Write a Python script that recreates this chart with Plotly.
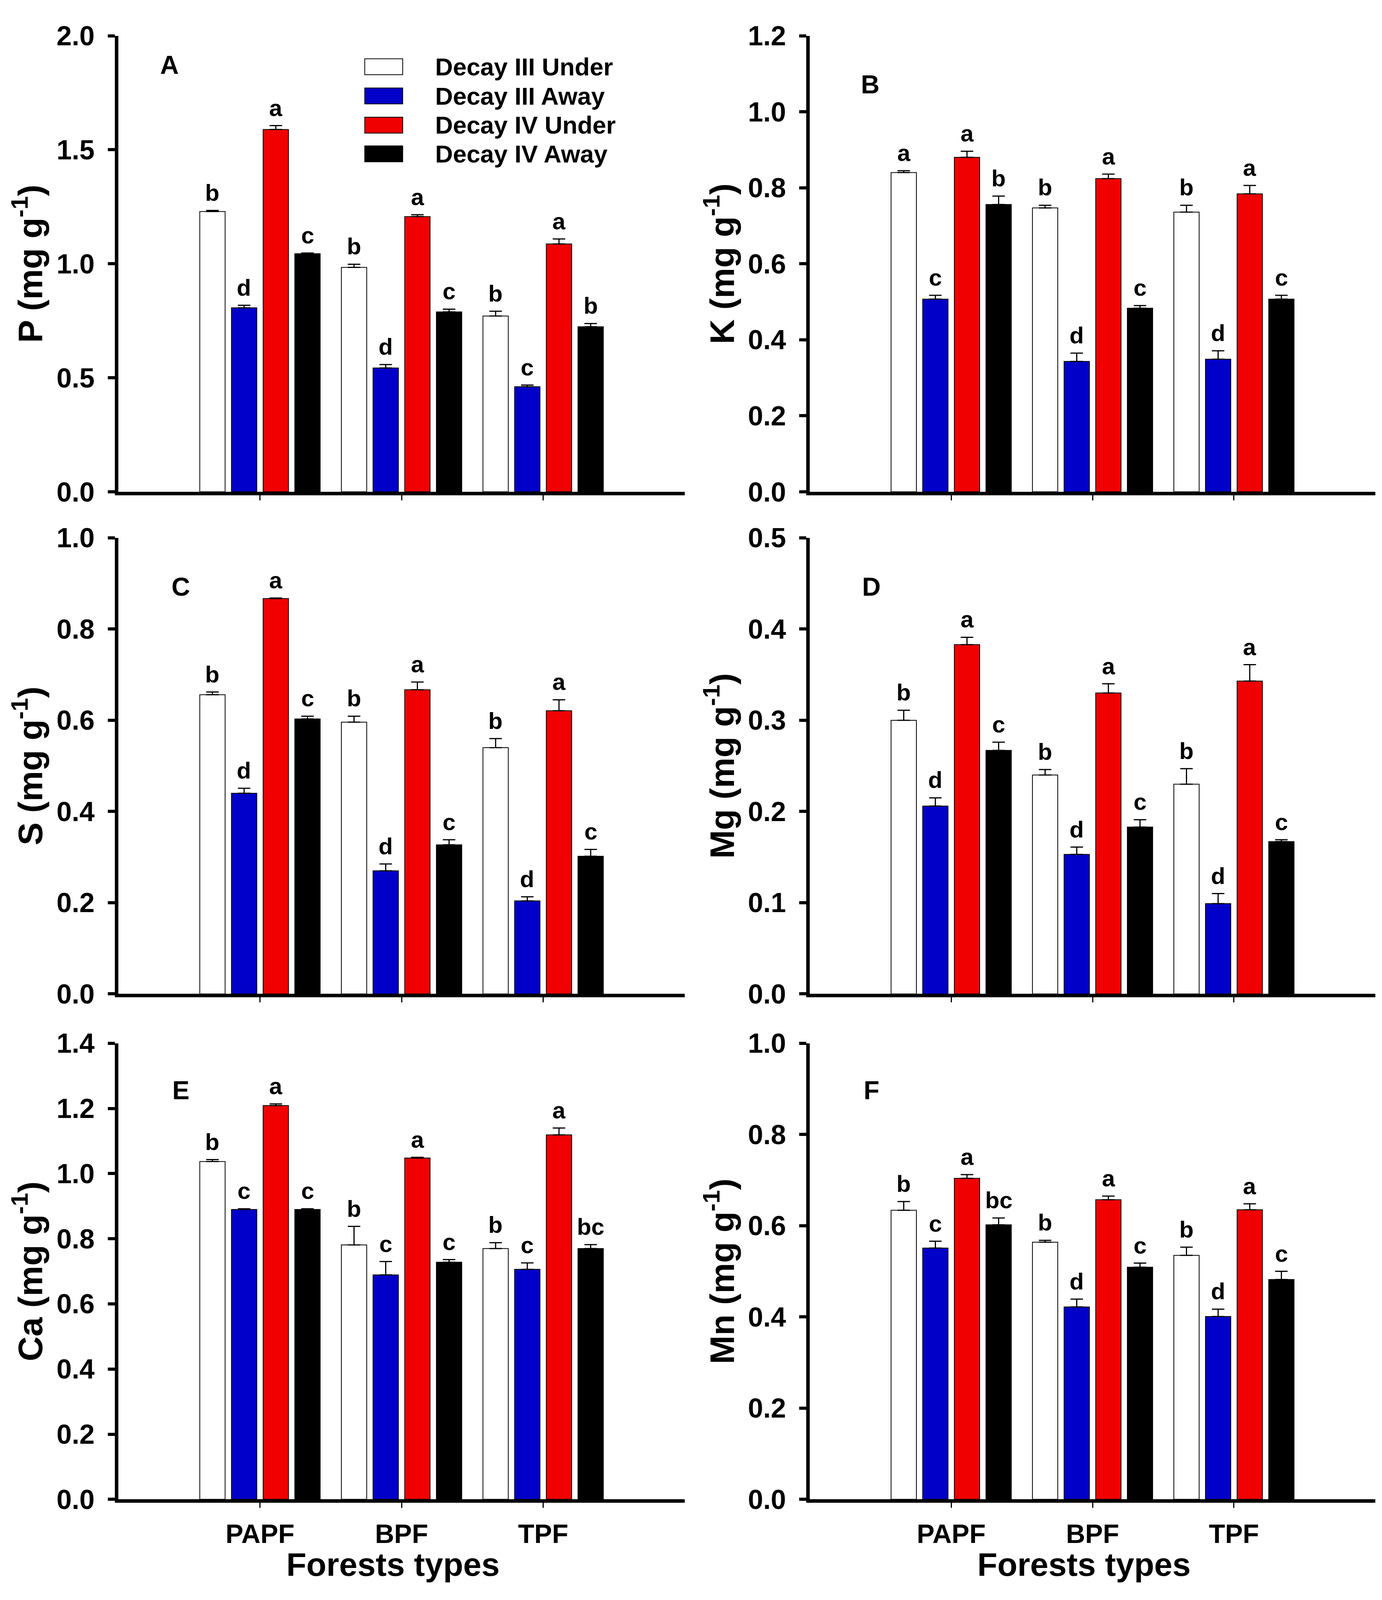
import plotly.graph_objects as go
from plotly.subplots import make_subplots

# Data: rows = series, columns = forest types
forests = ["PAPF", "BPF", "TPF"]
series = ["Decay III Under", "Decay III Away", "Decay IV Under", "Decay IV Away"]
colors = ["#ffffff", "#0000c8", "#f00000", "#000000"]

P_mean = [[1.229, 0.984, 0.771], [0.807, 0.543, 0.461], [1.589, 1.207, 1.087], [1.044, 0.789, 0.724]]
P_err = [[0.005, 0.014, 0.021], [0.011, 0.015, 0.007], [0.017, 0.008, 0.022], [0.003, 0.012, 0.014]]
P_sig = [["b", "b", "b"], ["d", "d", "c"], ["a", "a", "a"], ["c", "c", "b"]]

K_mean = [[0.840, 0.747, 0.736], [0.507, 0.343, 0.349], [0.880, 0.824, 0.784], [0.756, 0.483, 0.507]]
K_err = [[0.005, 0.007, 0.018], [0.010, 0.022, 0.022], [0.016, 0.012, 0.022], [0.022, 0.007, 0.010]]
K_sig = [["a", "b", "b"], ["c", "d", "d"], ["a", "a", "a"], ["b", "c", "c"]]

S_mean = [[0.656, 0.596, 0.540], [0.440, 0.270, 0.204], [0.867, 0.667, 0.621], [0.603, 0.327, 0.302]]
S_err = [[0.006, 0.013, 0.020], [0.011, 0.015, 0.009], [0.001, 0.017, 0.024], [0.006, 0.011, 0.015]]
S_sig = [["b", "b", "b"], ["d", "d", "d"], ["a", "a", "a"], ["c", "c", "c"]]

Mg_mean = [[0.300, 0.240, 0.230], [0.206, 0.153, 0.099], [0.383, 0.330, 0.343], [0.267, 0.183, 0.167]]
Mg_err = [[0.011, 0.006, 0.017], [0.009, 0.008, 0.011], [0.008, 0.010, 0.018], [0.009, 0.008, 0.002]]
Mg_sig = [["b", "b", "b"], ["d", "d", "d"], ["a", "a", "a"], ["c", "c", "c"]]

Ca_mean = [[1.037, 0.781, 0.770], [0.890, 0.689, 0.706], [1.209, 1.048, 1.119], [0.890, 0.728, 0.770]]
Ca_err = [[0.006, 0.057, 0.018], [0.002, 0.041, 0.020], [0.005, 0.002, 0.021], [0.002, 0.008, 0.012]]
Ca_sig = [["b", "b", "b"], ["c", "c", "c"], ["a", "a", "a"], ["c", "c", "bc"]]

Mn_mean = [[0.634, 0.564, 0.535], [0.551, 0.422, 0.401], [0.704, 0.657, 0.635], [0.602, 0.509, 0.482]]
Mn_err = [[0.019, 0.004, 0.018], [0.015, 0.017, 0.016], [0.008, 0.008, 0.013], [0.015, 0.009, 0.018]]
Mn_sig = [["b", "b", "b"], ["c", "d", "d"], ["a", "a", "a"], ["bc", "c", "c"]]

panels = [
    ("A", "P", P_mean, P_err, P_sig, 2.0, 0.5),
    ("B", "K", K_mean, K_err, K_sig, 1.2, 0.2),
    ("C", "S", S_mean, S_err, S_sig, 1.0, 0.2),
    ("D", "Mg", Mg_mean, Mg_err, Mg_sig, 0.5, 0.1),
    ("E", "Ca", Ca_mean, Ca_err, Ca_sig, 1.4, 0.2),
    ("F", "Mn", Mn_mean, Mn_err, Mn_sig, 1.0, 0.2),
]
# where the panel letter sits inside each plot area (fraction of x / y domain)
tag_pos = [(0.09, 0.936), (0.107, 0.893), (0.11, 0.893), (0.109, 0.893), (0.11, 0.897), (0.109, 0.897)]

FONT = "Liberation Sans, Arial, sans-serif"
BARGAP = 0.105
GROUPGAP = 0.2

x_domains = [[0.0834, 0.4932], [0.5837, 0.9929]]
y_domains = [[0.6979, 0.9889], [0.3775, 0.6685], [0.0550, 0.3460]]

fig = make_subplots(rows=3, cols=2)
xpos = list(range(len(forests)))

for p, (tag, elem, means, errs, sigs, ymax, dtick) in enumerate(panels):
    row, col = p // 2 + 1, p % 2 + 1
    for i, name in enumerate(series):
        fig.add_trace(go.Bar(
            name=name, x=xpos, y=means[i],
            marker=dict(color=colors[i], line=dict(color="#000000", width=2)),
            error_y=dict(type="data", array=errs[i], arrayminus=[0] * 3, symmetric=False,
                         color="#000000", thickness=3, width=16),
            showlegend=False,
        ), row=row, col=col)

        # significance letters above each bar
        off = -(1 - BARGAP) / 2 + (i + 0.5) * (1 - BARGAP) / len(series)
        for j in range(len(forests)):
            fig.add_annotation(
                x=xpos[j] + off, y=means[i][j] + errs[i][j], text=sigs[i][j],
                showarrow=False, yanchor="bottom", yshift=10,
                font=dict(family=FONT, size=60, color="#000000", weight="bold"),
                row=row, col=col)

    xd = "x domain" if p == 0 else "x%d domain" % (p + 1)
    yd = "y domain" if p == 0 else "y%d domain" % (p + 1)
    fig.add_annotation(
        x=tag_pos[p][0], y=tag_pos[p][1], xref=xd, yref=yd, text=tag,
        showarrow=False, xanchor="center", yanchor="middle",
        font=dict(family=FONT, size=66, color="#000000", weight="bold"))

    show_x = row == 3
    fig.update_xaxes(
        domain=x_domains[col - 1], range=[-1, 3],
        tickmode="array", tickvals=xpos, ticktext=forests, showticklabels=show_x,
        ticks="outside", ticklen=13, tickwidth=3, tickcolor="#000000",
        showline=True, linewidth=9, linecolor="#000000", showgrid=False, zeroline=False,
        tickfont=dict(family=FONT, size=68, color="#000000", weight="bold"),
        ticklabelstandoff=8,
        row=row, col=col)
    fig.update_yaxes(
        domain=y_domains[row - 1], range=[0, ymax], dtick=dtick, tick0=0, tickformat=".1f",
        ticks="outside", ticklen=18, tickwidth=8, tickcolor="#000000",
        showline=True, linewidth=9, linecolor="#000000", showgrid=False, zeroline=False,
        tickfont=dict(family=FONT, size=70, color="#000000", weight="bold"),
        ticklabelstandoff=20,
        title=dict(text=elem + " (mg g<sup>-1</sup>)", standoff=10,
                   font=dict(family=FONT, size=88, color="#000000", weight="bold")),
        row=row, col=col)

    # x-axis title under the bottom row
    if show_x:
        fig.add_annotation(
            x=0.485, y=0.0135, xref=xd, yref="paper", text="Forests types",
            showarrow=False, xanchor="center", yanchor="middle",
            font=dict(family=FONT, size=84, color="#000000", weight="bold"))

# manual legend in panel A
leg_y = [0.932, 0.868, 0.804, 0.741]
for i, name in enumerate(series):
    fig.add_shape(type="rect", xref="x domain", yref="y domain",
                  x0=0.435, x1=0.502, y0=leg_y[i] - 0.0175, y1=leg_y[i] + 0.0175,
                  fillcolor=colors[i], line=dict(color="#000000", width=2))
    fig.add_annotation(x=0.558, y=leg_y[i], xref="x domain", yref="y domain", text=name,
                       showarrow=False, xanchor="left", yanchor="middle",
                       font=dict(family=FONT, size=63, color="#000000", weight="bold"))

# the visible page is a little shorter than the window, so keep the figure inside it
fig.update_layout(
    width=3538, height=4090,
    margin=dict(l=0, r=0, t=0, b=0),
    barmode="group", bargap=BARGAP, bargroupgap=GROUPGAP,
    plot_bgcolor="#ffffff", paper_bgcolor="#ffffff",
    showlegend=False,
    font=dict(family=FONT, color="#000000"),
)

fig.write_html("out.html")
